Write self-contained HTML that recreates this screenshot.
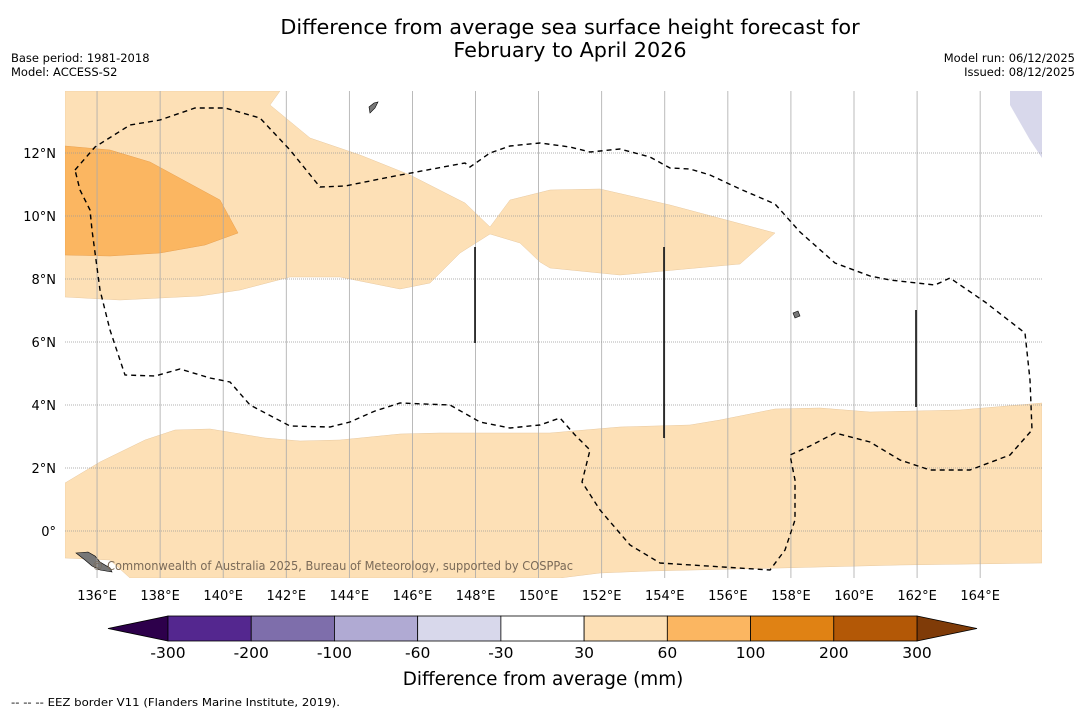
<!DOCTYPE html>
<html><head><meta charset="utf-8"><style>
body{margin:0;background:#fff;font-family:"Liberation Sans","DejaVu Sans",sans-serif;}
svg text{font-family:"DejaVu Sans","Liberation Sans",sans-serif;}
</style></head><body>
<svg id="chart" width="1085" height="713" viewBox="0 0 1085 713">
<rect width="1085" height="713" fill="#fff"/>
<text x="570" y="34" text-anchor="middle" font-size="20.8">Difference from average sea surface height forecast for</text>
<text x="570" y="57" text-anchor="middle" font-size="20.8">February to April 2026</text>
<text x="11" y="62" font-size="11.5">Base period: 1981-2018</text>
<text x="11" y="76" font-size="11.5">Model: ACCESS-S2</text>
<text x="1075" y="62" font-size="11.5" text-anchor="end">Model run: 06/12/2025</text>
<text x="1075" y="76" font-size="11.5" text-anchor="end">Issued: 08/12/2025</text>
<defs><clipPath id="mapclip"><rect x="65" y="91" width="977" height="487"/></clipPath></defs>
<g id="map" clip-path="url(#mapclip)">
<polygon fill="#fde0b6" stroke="#e8c9a0" stroke-width="0.5" points="65,91 280,91 270,105 310,138 360,155 410,175 465,203 490,227 510,200 550,190 600,189 670,205 775,233 740,264 620,275 550,268 540,262 520,243 490,234 460,253 430,283 400,289 340,277 290,277 240,290 200,296 120,300 65,297"/>
<polygon fill="#fbb661" stroke="#e8a050" stroke-width="0.5" points="65,146 110,150 150,162 220,200 238,233 205,245 160,253 110,256 65,255"/>
<polygon fill="#fde0b6" stroke="#e8c9a0" stroke-width="0.5" points="65,483 100,462 145,440 175,430 210,429 265,438 300,441 340,440 400,434 440,433 550,433 620,427 690,425 720,420 775,409 820,408 870,412 960,410 1042,403 1042,563 900,565 780,568 650,571 600,573 560,578 130,578 110,560 65,558"/>
<polygon fill="#d8d8eb" points="1010,91 1042,91 1042,158 1030,140 1010,105"/>
<polygon fill="#777" stroke="#000" stroke-width="0.6" points="76,553 88,552 95,556 100,562 110,568 112,572 100,570 92,566 85,560"/>
<polygon fill="#777" stroke="#000" stroke-width="0.6" points="369,107 374,103 378,102 375,108 370,113"/>
<polygon fill="#777" stroke="#000" stroke-width="0.6" points="793,313 798,311 800,316 795,318"/>
<g id="grid"></g>
<polyline fill="none" stroke="#000" stroke-width="1.4" stroke-dasharray="5,4" points="75,170 95,147 130,125 160,120 195,108 225,108 260,118 290,150 320,187 345,186 400,175 465,163 470,167 490,153 510,146 540,143 570,147 590,152 620,149 650,157 670,168 690,169 710,175 740,189 775,204 800,232 835,263 870,276 890,280 935,285 950,278 985,302 1025,333 1030,380 1032,430 1010,455 970,470 930,470 900,460 870,442 835,433 810,446 790,455 795,480 795,520 785,550 770,570 660,563 630,545 600,510 582,482 590,450 575,435 560,418 540,425 510,428 480,422 450,405 400,403 375,411 350,422 330,427 290,426 250,405 230,382 210,378 180,369 155,376 125,375 110,330 100,290 92,230 90,210 80,190 75,170"/>
<line x1="475" y1="247" x2="475" y2="343" stroke="#000" stroke-width="1.5"/>
<line x1="664" y1="247" x2="664" y2="438" stroke="#000" stroke-width="1.5"/>
<line x1="916" y1="310" x2="916" y2="407" stroke="#000" stroke-width="1.5"/>
<text x="92" y="570" font-size="12" fill="#7a6a58" textLength="481" lengthAdjust="spacingAndGlyphs">© Commonwealth of Australia 2025, Bureau of Meteorology, supported by COSPPac</text>
</g>
<g id="axes"></g>
<g id="cbar"></g>
<text x="543" y="685" text-anchor="middle" font-size="18.4">Difference from average (mm)</text>
<text x="11" y="706" font-size="11" textLength="329" lengthAdjust="spacingAndGlyphs">--  --  -- EEZ border V11 (Flanders Marine Institute, 2019).</text>
</svg>
<script>
const lonTicks=[136,138,140,142,144,146,148,150,152,154,156,158,160,162,164];
const latTicks=[0,2,4,6,8,10,12];
const cbarLabels=["-300","-200","-100","-60","-30","30","60","100","200","300"];
const cbarColors=["#54278f","#7e6eab","#b0aad3","#d8d8eb","#ffffff","#fde0b6","#fbb661","#e08214","#b35806"];
const cbarLow="#2d004b", cbarHigh="#7f3b08";
const NS="http://www.w3.org/2000/svg";
const lonX=l=>65.5+(l-135)*31.54, latY=l=>531-l*31.5;
function mk(tag,attrs,parent){const e=document.createElementNS(NS,tag);for(const k in attrs)e.setAttribute(k,attrs[k]);parent.appendChild(e);return e;}
const grid=document.getElementById('grid'), axes=document.getElementById('axes');
lonTicks.forEach(l=>{const x=lonX(l);
 const g=mk('line',{x1:x,y1:91,x2:x,y2:578,stroke:'#aaa','stroke-width':0.8},grid);
 
 
 const t=mk('text',{x:x,y:600,'text-anchor':'middle','font-size':13},axes);t.textContent=l+'°E';
 
 });
latTicks.forEach(l=>{const y=latY(l);
 const g=mk('line',{x1:65,y1:y,x2:1042,y2:y,stroke:'#999','stroke-width':0.8,'stroke-dasharray':'1,1'},grid);
 
 
 const t=mk('text',{x:56,y:y+5,'text-anchor':'end','font-size':13},axes);t.textContent=l===0?'0°':l+'°N';
 
 });
const cb=document.getElementById('cbar');
const x0=168,x1=917,y0=616,h=25,w=(x1-x0)/cbarColors.length;
const lt=mk('polygon',{points:`108,${y0+h/2} ${x0},${y0} ${x0},${y0+h}`,fill:cbarLow,stroke:'#000','stroke-width':0.8},cb);


const rt=mk('polygon',{points:`977,${y0+h/2} ${x1},${y0} ${x1},${y0+h}`,fill:cbarHigh,stroke:'#000','stroke-width':0.8},cb);


cbarColors.forEach((c,i)=>{const r=mk('rect',{x:x0+i*w,y:y0,width:w,height:h,fill:c,stroke:'#000','stroke-width':0.8},cb);
 
 });
cbarLabels.forEach((s,i)=>{const t=mk('text',{x:x0+i*w,y:658,'text-anchor':'middle','font-size':15.5},cb);t.textContent=s;
 
 });
</script>
</body></html>
